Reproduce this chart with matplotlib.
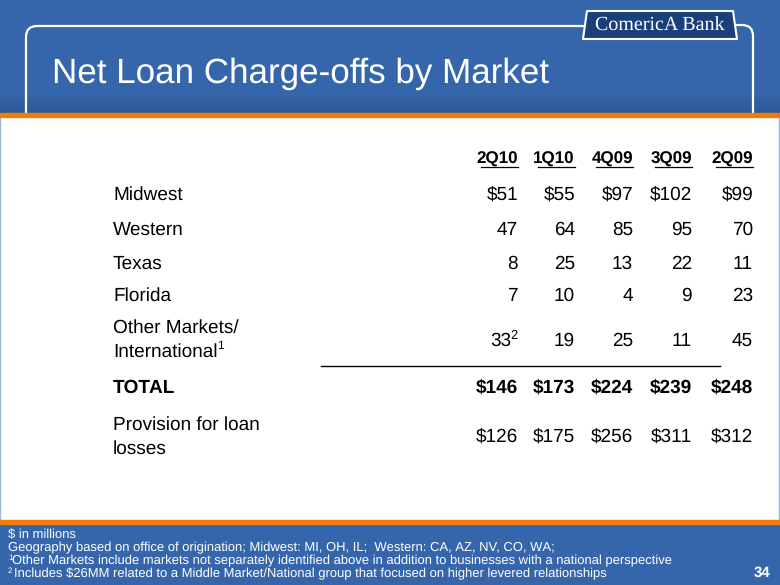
import numpy as np
import matplotlib
matplotlib.use('Agg')
import matplotlib.pyplot as plt
from matplotlib.patches import Rectangle, Polygon, PathPatch
from matplotlib.path import Path

plt.rcParams['font.family'] = ['Liberation Sans', 'DejaVu Sans']
plt.rcParams['text.hinting'] = 'no_hinting'
plt.rcParams['text.hinting_factor'] = 1

# data ($ in millions)
quarters = ['2Q10', '1Q10', '4Q09', '3Q09', '2Q09']
midwest = ['$51', '$55', '$97', '$102', '$99']
western = ['47', '64', '85', '95', '70']
texas = ['8', '25', '13', '22', '11']
florida = ['7', '10', '4', '9', '23']
other = ['33', '19', '25', '11', '45']
total = ['$146', '$173', '$224', '$239', '$248']
provision = ['$126', '$175', '$256', '$311', '$312']

footnotes = [
    '$ in millions',
    'Geography based on office of origination; Midwest: MI, OH, IL;  Western: CA, AZ, NV, CO, WA;',
    'Other Markets include markets not separately identified above in addition to businesses with a national perspective',
    'Includes $26MM related to a Middle Market/National group that focused on higher levered relationships',
]

BLUE = '#3566ab'
ORANGE = '#f07d0a'

fig = plt.figure(figsize=(7.8, 5.85), dpi=100)
ax = fig.add_axes([0, 0, 1, 1])
ax.set_xlim(0, 780)
ax.set_ylim(585, 0)
ax.axis('off')

# background
ax.add_patch(Rectangle((0, 0), 780, 585, color=BLUE, zorder=0))
# shadow above the panel
grad = np.linspace(0, 1, 50).reshape(-1, 1)
cmap = matplotlib.colors.LinearSegmentedColormap.from_list('sh', [BLUE, '#2d5999'])
ax.imshow(grad, extent=[0, 780, 113, 92], cmap=cmap, aspect='auto', zorder=0.5)

# white panel + orange rules
ax.add_patch(Rectangle((0, 116), 779, 405, facecolor='white', edgecolor='#9db5d8', lw=1, zorder=2))
ax.add_patch(Rectangle((0, 112.5), 780, 4, color=ORANGE, zorder=3))
ax.add_patch(Rectangle((0, 519.5), 780, 4, color=ORANGE, zorder=3))

# white frame line
r = 11
verts = [(26, 113), (26, 26 + r), (26, 26), (26 + r, 26), (585, 26)]
codes = [Path.MOVETO, Path.LINETO, Path.CURVE3, Path.CURVE3, Path.LINETO]
ax.add_patch(PathPatch(Path(verts, codes), fill=False, ec='white', lw=1.6, zorder=1))
verts = [(733, 25), (753 - r, 25), (753, 25), (753, 25 + r), (753, 113)]
codes = [Path.MOVETO, Path.LINETO, Path.CURVE3, Path.CURVE3, Path.LINETO]
ax.add_patch(PathPatch(Path(verts, codes), fill=False, ec='white', lw=1.6, zorder=1))

# logo
ax.add_patch(Polygon([(587, 11), (733, 11), (737, 39), (583, 39)], closed=True,
                     facecolor='#1a3f7a', edgecolor='white', lw=1.5, joinstyle='round', zorder=4))
ax.text(660, 26, 'ComericA Bank', family='Liberation Serif', color='white',
        fontsize=14.5, ha='center', va='center', zorder=5)

# title
ax.text(52, 83, 'Net Loan Charge-offs by Market', color='white', fontsize=25.2,
        ha='left', va='baseline', zorder=5)

# table
label_x = 113
col_right = [518, 575, 633, 692, 753]
fs = 13.5

for q, xr in zip(quarters, col_right):
    ax.text(xr, 164, q, fontsize=12.2, fontweight='bold', ha='right', va='baseline', zorder=5)
    ax.plot([xr - 37, xr], [167, 167], color='black', lw=0.9, zorder=5)

rows = [('Midwest', midwest, 200), ('Western', western, 235), ('Texas', texas, 269),
        ('Florida', florida, 301)]
for name, vals, yb in rows:
    ax.text(label_x, yb, name, fontsize=fs, ha='left', va='baseline', zorder=5)
    for v, xr in zip(vals, col_right):
        ax.text(xr, yb, v, fontsize=fs, ha='right', va='baseline', zorder=5)

ax.text(label_x, 333, 'Other Markets/', fontsize=fs, ha='left', va='baseline', zorder=5)
t_int = ax.text(label_x, 357, 'International', fontsize=fs, ha='left', va='baseline', zorder=5)
ax.annotate('1', xy=(1, 0), xycoords=t_int, xytext=(0, 8.5), textcoords='offset points',
            fontsize=8.5, ha='left', va='baseline', zorder=5)
for i, (v, xr) in enumerate(zip(other, col_right)):
    if i == 0:
        ax.text(xr - 7, 346, v, fontsize=fs, ha='right', va='baseline', zorder=5)
        ax.text(xr, 339, '2', fontsize=9, ha='right', va='baseline', zorder=5)
    else:
        ax.text(xr, 346, v, fontsize=fs, ha='right', va='baseline', zorder=5)

ax.plot([321, 720], [366, 366], color='black', lw=1.0, zorder=5)

ax.text(label_x, 393, 'TOTAL', fontsize=fs, fontweight='bold', ha='left', va='baseline', zorder=5)
for v, xr in zip(total, col_right):
    ax.text(xr, 393, v, fontsize=fs, fontweight='bold', ha='right', va='baseline', zorder=5)

ax.text(label_x, 430, 'Provision for loan', fontsize=fs, ha='left', va='baseline', zorder=5)
ax.text(label_x, 454, 'losses', fontsize=fs, ha='left', va='baseline', zorder=5)
for v, xr in zip(provision, col_right):
    ax.text(xr, 442, v, fontsize=fs, ha='right', va='baseline', zorder=5)

# footnotes
ffs = 9.2
fy = [538, 551, 564, 577]
ax.text(8, fy[0], footnotes[0], color='white', fontsize=ffs, va='baseline', zorder=5)
ax.text(8, fy[1], footnotes[1], color='white', fontsize=ffs, va='baseline', zorder=5)
ax.text(8, fy[2] - 4, '1', color='white', fontsize=6, va='baseline', zorder=5)
ax.text(12, fy[2], footnotes[2], color='white', fontsize=ffs, va='baseline', zorder=5)
ax.text(8, fy[3] - 4, '2', color='white', fontsize=6, va='baseline', zorder=5)
ax.text(14, fy[3], footnotes[3], color='white', fontsize=ffs, va='baseline', zorder=5)
ax.text(770, 577, '34', color='white', fontsize=10.5, fontweight='bold', ha='right',
        va='baseline', zorder=5)

fig.savefig('out.png', dpi=100)
